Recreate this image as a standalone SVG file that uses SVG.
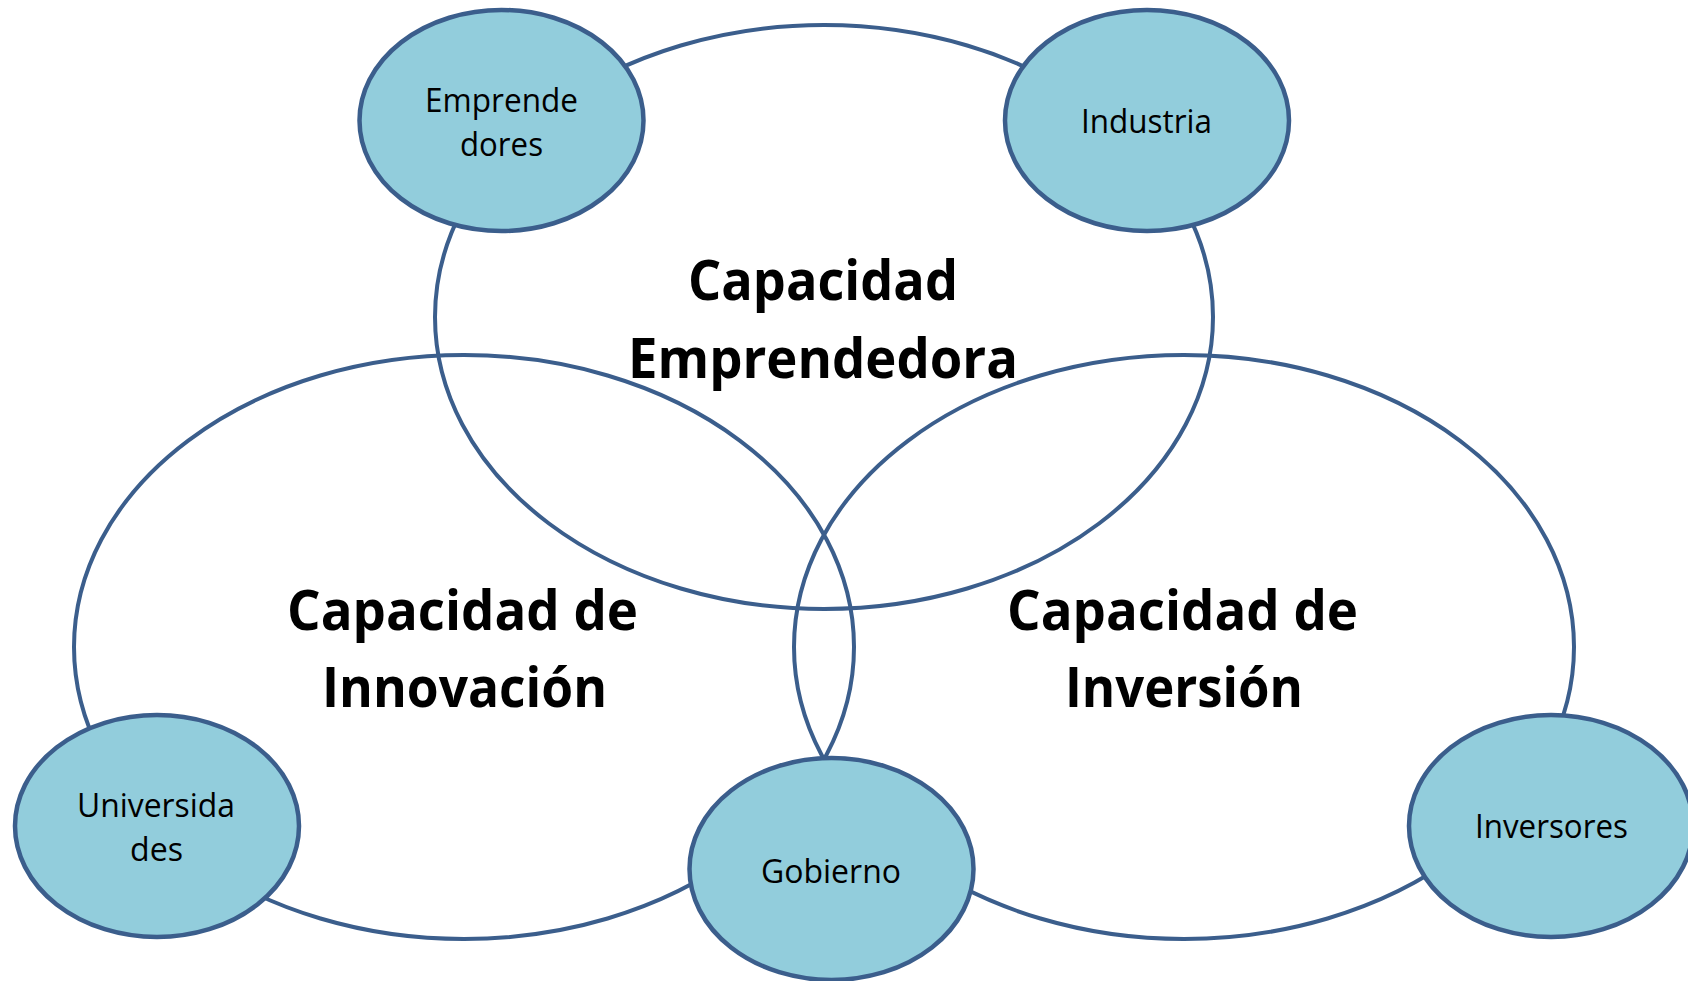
<svg xmlns="http://www.w3.org/2000/svg" width="1688" height="981" viewBox="0 0 1688 981">
<style>
.big{fill:none;stroke:#3B5E8C;stroke-width:4}
.small{fill:#92CDDC;stroke:#3B5E8C;stroke-width:4.5}
.lbl{font-family:"Open Sans","Noto Sans",sans-serif;font-size:32px;fill:#000;text-anchor:middle}
.title{font-family:"Open Sans","Noto Sans",sans-serif;font-size:56px;font-weight:bold;fill:#000;text-anchor:middle}
</style>
<rect width="1688" height="981" fill="#fff"/>
<g id="connectors">
<ellipse id="ring-emprendedora" class="big" cx="824" cy="317" rx="389" ry="292"/>
<ellipse id="ring-innovacion" class="big" cx="464" cy="647" rx="390" ry="292"/>
<ellipse id="ring-inversion" class="big" cx="1184" cy="647" rx="390" ry="292"/>
</g>
<g id="capacidad-emprendedora">
<text class="title" x="823" y="300" textLength="270" lengthAdjust="spacingAndGlyphs">Capacidad</text>
<text class="title" x="823" y="378" textLength="390" lengthAdjust="spacingAndGlyphs">Emprendedora</text>
</g>
<g id="capacidad-innovacion">
<text class="title" x="462.5" y="630" textLength="351" lengthAdjust="spacingAndGlyphs">Capacidad de</text>
<text class="title" x="464.5" y="707" textLength="285" lengthAdjust="spacingAndGlyphs">Innovación</text>
</g>
<g id="capacidad-inversion">
<text class="title" x="1182.5" y="630" textLength="351" lengthAdjust="spacingAndGlyphs">Capacidad de</text>
<text class="title" x="1184" y="707" textLength="238" lengthAdjust="spacingAndGlyphs">Inversión</text>
</g>
<g id="emprendedores">
<ellipse class="small" cx="501.5" cy="120.5" rx="142" ry="110.5"/>
<text class="lbl" x="501.5" y="112" textLength="153" lengthAdjust="spacingAndGlyphs">Emprende</text>
<text class="lbl" x="501.5" y="156" textLength="83" lengthAdjust="spacingAndGlyphs">dores</text>
</g>
<g id="industria">
<ellipse class="small" cx="1147" cy="120.5" rx="142" ry="110.5"/>
<text class="lbl" x="1146.5" y="133" textLength="131" lengthAdjust="spacingAndGlyphs">Industria</text>
</g>
<g id="universidades">
<ellipse class="small" cx="157" cy="826" rx="142" ry="111"/>
<text class="lbl" x="156" y="817" textLength="158" lengthAdjust="spacingAndGlyphs">Universida</text>
<text class="lbl" x="156.5" y="861" textLength="53" lengthAdjust="spacingAndGlyphs">des</text>
</g>
<g id="gobierno">
<ellipse class="small" cx="831.5" cy="869" rx="142" ry="111"/>
<text class="lbl" x="831" y="883" textLength="140" lengthAdjust="spacingAndGlyphs">Gobierno</text>
</g>
<g id="inversores">
<ellipse class="small" cx="1551" cy="826" rx="142" ry="111"/>
<text class="lbl" x="1551.5" y="838" textLength="153" lengthAdjust="spacingAndGlyphs">Inversores</text>
</g>
</svg>
